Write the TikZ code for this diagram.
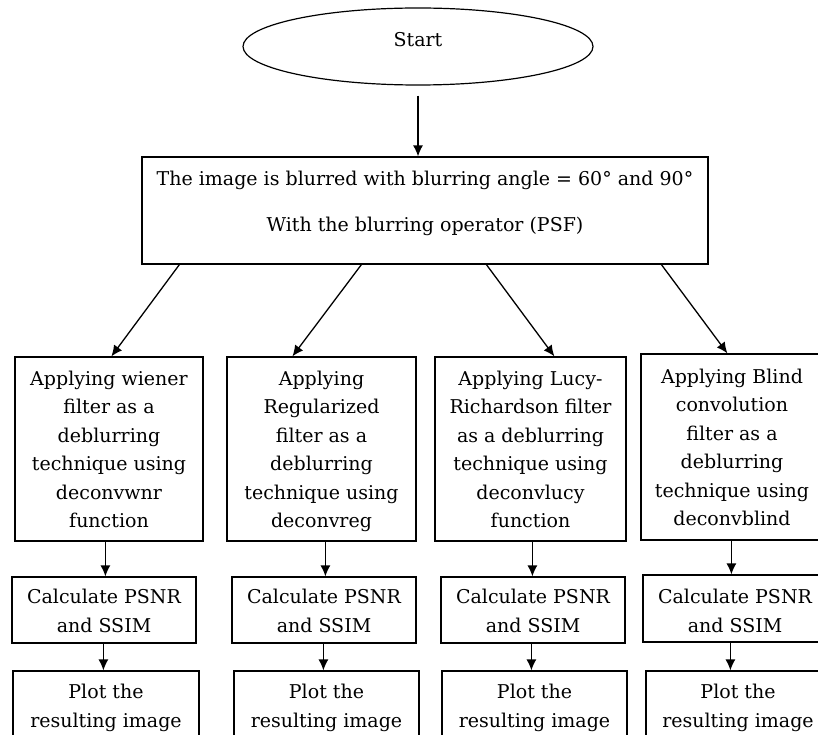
\documentclass[tikz,border=0pt]{standalone}
\usepackage{fontspec}
\setmainfont{DejaVu Serif}
\usetikzlibrary{arrows.meta,calc,shapes.geometric}
\begin{document}
\begin{tikzpicture}[x=1pt,y=-1pt,
  box/.style={draw,line width=1.2pt,rectangle,inner sep=0pt,align=center,
    font=\fontsize{19pt}{28.5pt}\selectfont},
  applybox/.style={box,text height=170.5pt,text depth=13.5pt},
  calcbox/.style={box,text height=55pt,text depth=11pt},
  plotbox/.style={box,text height=56pt,text depth=18pt},
  arr/.style={line width=1.3pt,-{Latex[length=11pt,width=10pt]}}]
\clip (0,0) rectangle (818,735);
\fill[white] (0,0) rectangle (818,735);
% start
\node[draw,line width=1.2pt,ellipse,minimum width=350pt,minimum height=77pt,inner sep=0pt,
  text height=8pt,text depth=8pt,
  font=\fontsize{19pt}{20pt}\selectfont] (start) at (418,46.5) {Start};
% blur box
\node[box,minimum width=566pt,text height=75pt,text depth=32pt,
  font=\fontsize{19pt}{47pt}\selectfont] (blur) at (425,210.5)
  {The image is blurred with blurring angle = 60° and 90°\\With the blurring operator (PSF)};
% apply boxes
\node[applybox,minimum width=188pt] (ap1) at (109,449)
  {Applying wiener\\filter as a\\deblurring\\technique using\\deconvwnr\\function};
\node[applybox,minimum width=189pt] (ap2) at (321.5,449)
  {Applying\\Regularized\\filter as a\\deblurring\\technique using\\deconvreg};
\node[applybox,minimum width=191pt] (ap3) at (530.5,449)
  {Applying Lucy-\\Richardson filter\\as a deblurring\\technique using\\deconvlucy\\function};
\node[applybox,minimum width=182pt,text height=171.5pt,text depth=14.5pt] (ap4) at (732,447)
  {Applying Blind\\convolution\\filter as a\\deblurring\\technique using\\deconvblind};
% calc boxes
\node[calcbox,minimum width=184pt] (c1) at (104,610) {Calculate PSNR\\and SSIM};
\node[calcbox,minimum width=184pt] (c2) at (324,610) {Calculate PSNR\\and SSIM};
\node[calcbox,minimum width=184pt] (c3) at (533,610) {Calculate PSNR\\and SSIM};
\node[calcbox,minimum width=184pt,text height=57pt,text depth=10pt] (c4) at (735,608.5) {Calculate PSNR\\and SSIM};
% plot boxes
\node[plotbox,minimum width=186pt] (p1) at (106,708) {Plot the\\resulting image};
\node[plotbox,minimum width=185pt] (p2) at (326.5,708) {Plot the\\resulting image};
\node[plotbox,minimum width=185pt] (p3) at (534.5,708) {Plot the\\resulting image};
\node[plotbox,minimum width=184pt] (p4) at (738,708) {Plot the\\resulting image};
% arrows
\draw[arr,shorten <=10pt] (start.south) -- (start.south |- blur.north);
\draw[arr] ($(blur.south west)+(38,0)$) -- ($(ap1.north west)+(97,0)$);
\draw[arr] ($(blur.south west)+(220,0)$) -- ($(ap2.north west)+(66,0)$);
\draw[arr] ($(blur.south west)+(345,0)$) -- ($(ap3.north west)+(120,0)$);
\draw[arr] ($(blur.south west)+(520,0)$) -- ($(ap4.north west)+(87,0)$);
\draw[arr] ($(ap1.south west)+(91,0)$) -- ($(c1.north west)+(94,0)$);
\draw[arr] ($(ap2.south west)+(99,0)$) -- ($(c2.north west)+(94,0)$);
\draw[arr] ($(ap3.south west)+(98,0)$) -- ($(c3.north west)+(92,0)$);
\draw[arr] ($(ap4.south west)+(91,0)$) -- ($(c4.north west)+(89,0)$);
\draw[arr] ($(c1.south west)+(92,0)$) -- ($(p1.north west)+(91,0)$);
\draw[arr] ($(c2.south west)+(92,0)$) -- ($(p2.north west)+(90,0)$);
\draw[arr] ($(c3.south west)+(91,0)$) -- ($(p3.north west)+(90,0)$);
\draw[arr] ($(c4.south west)+(88,0)$) -- ($(p4.north west)+(85,0)$);
\end{tikzpicture}
\end{document}
